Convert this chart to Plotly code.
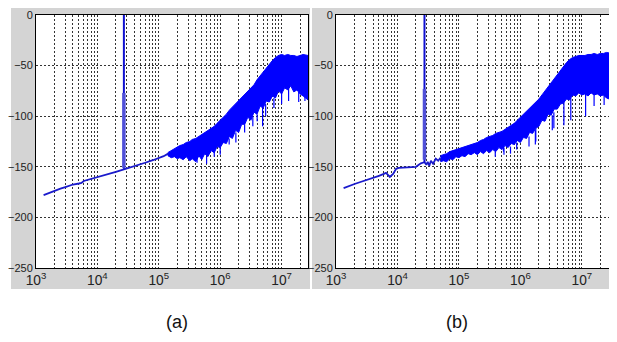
import plotly.graph_objects as go

# ---------------- Panel (a) data ----------------
a_base_f = [1.33e3, 1.6e3, 2e3, 2.5e3, 3e3, 4e3, 5e3, 5.5e3, 6e3, 8e3, 1e4, 1.3e4, 1.6e4, 2e4, 2.7e4,
            3.3e4, 4e4, 5e4, 6e4, 8e4, 1e5, 1.2e5, 1.42e5]
a_base_v = [-178, -176, -173.5, -171.5, -170, -167.5, -166.5, -166, -164, -162, -160, -158, -156.5, -155, -152.5,
            -151, -149.5, -148, -146, -143.5, -141.5, -139.5, -137]

a_band_f = [1.4e5, 1.6e5, 1.8e5, 2.0e5, 2.2e5, 2.5e5, 2.8e5, 3.2e5, 3.5e5, 4e5, 4.5e5, 5e5, 5.6e5, 6.3e5,
            7.1e5, 8e5, 8.9e5, 1e6, 1.12e6, 1.26e6, 1.41e6, 1.58e6, 1.78e6, 2e6, 2.24e6, 2.51e6, 2.82e6,
            3.16e6, 3.55e6, 3.98e6, 4.47e6, 5.01e6, 5.62e6, 6.31e6, 7.08e6, 7.94e6, 8.91e6, 1e7, 1.12e7,
            1.26e7, 1.41e7, 1.58e7, 1.78e7, 2e7, 2.24e7, 2.7e7]
a_band_hi = [-136, -134, -132, -131, -129, -128, -126, -125, -123, -122, -120, -118, -116, -114,
             -112, -110, -107, -104, -101, -98, -94, -91, -88, -85, -82, -79, -76,
             -72, -69, -64, -60, -56, -52, -48, -45, -42, -40, -39, -40,
             -39, -40, -40, -41, -40, -39, -40]
a_band_lo = [-139, -141, -140, -142, -141, -143, -140, -144, -142, -145, -139, -143, -137, -140,
             -134, -136, -130, -131, -126, -127, -120, -122, -114, -116, -108, -108, -101,
             -104, -96, -98, -90, -92, -85, -86, -80, -82, -75, -78, -72,
             -74, -70, -76, -74, -78, -80, -84]
a_spike_f = [4.2e5, 6.0e5, 8.0e5, 1.0e6, 1.4e6, 1.8e6, 2.5e6, 3.4e6, 4.0e6, 4.9e6, 5.5e6, 7.5e6, 1.0e7,
             1.3e7, 1.9e7, 2.4e7]
a_spike_top = [-138, -140, -134, -130, -122, -116, -108, -100, -98, -90, -88, -82, -76, -72, -76, -80]
a_spike_min = [-146, -147, -140, -138, -128, -126, -116, -110, -105, -110, -100, -92, -88, -85, -86, -85]
a_peak_f = 2.7e4
a_peak_v = [-152, 0]
a_peak_thick = [-151, -77]

# ---------------- Panel (b) data ----------------
b_base_f = [1.33e3, 1.6e3, 2e3, 2.5e3, 3e3, 4e3, 5e3, 6e3, 6.5e3, 7e3, 7.5e3, 8.5e3, 9.5e3, 1.05e4, 1.5e4,
            2e4, 2.4e4, 2.75e4, 2.95e4, 3.1e4, 3.3e4, 3.5e4, 3.8e4, 4.2e4, 4.6e4, 5e4]
b_base_v = [-171, -169, -167, -165, -163.5, -161, -159, -157, -156, -158, -160, -157, -152, -151, -150.5,
            -150, -146.5, -145.5, -148, -145, -149, -144, -147, -142, -144, -141]

b_band_f = [5e4, 5.6e4, 6.3e4, 7.1e4, 8e4, 8.9e4, 1e5, 1.12e5, 1.26e5, 1.41e5, 1.58e5, 1.78e5, 2e5,
            2.24e5, 2.51e5, 2.82e5, 3.16e5, 3.55e5, 3.98e5, 4.47e5, 5.01e5, 5.62e5, 6.31e5, 7.08e5,
            7.94e5, 8.91e5, 1e6, 1.12e6, 1.26e6, 1.41e6, 1.58e6, 1.78e6, 2e6, 2.24e6, 2.51e6, 2.82e6,
            3.16e6, 3.55e6, 3.98e6, 4.47e6, 5.01e6, 5.62e6, 6.31e6, 7.08e6, 7.94e6, 8.91e6, 1e7,
            1.12e7, 1.26e7, 1.41e7, 1.58e7, 1.78e7, 2e7, 2.24e7, 2.51e7, 3.1e7]
b_band_hi = [-139, -138, -137, -135, -134, -133, -132, -131, -130, -129, -128, -127, -126,
             -124, -123, -121, -120, -119, -117, -116, -115, -113, -111, -109,
             -107, -104, -101, -98, -95, -92, -89, -86, -83, -79, -75, -71,
             -67, -63, -59, -55, -51, -47, -44, -42, -41, -40, -40,
             -40, -39, -39, -38, -39, -38, -38, -37, -38]
b_band_lo = [-145, -144, -145, -142, -143, -140, -141, -139, -140, -137, -138, -136, -138,
             -135, -137, -134, -136, -133, -135, -131, -133, -129, -131, -127,
             -128, -124, -126, -121, -122, -116, -117, -112, -110, -104, -105, -98,
             -99, -93, -93, -88, -87, -83, -84, -79, -80, -77, -79,
             -78, -80, -77, -79, -78, -80, -79, -82, -84]
b_spike_f = [3.9e5, 5.3e5, 5.4e5, 6.9e5, 8.7e5, 1.38e6, 1.75e6, 1.78e6, 3.3e6, 3.5e6, 5.1e6, 6.6e6,
             1.15e7, 1.58e7, 2.3e7, 3.0e7]
b_spike_top = [-133, -130, -131, -130, -126, -120, -114, -112, -99, -96, -85, -82, -78, -77, -79, -80]
b_spike_min = [-140, -135, -138, -137, -133, -130, -128, -125, -114, -112, -109, -104, -100, -90, -89, -84]
b_peak_f = 2.75e4
b_peak_v = [-146, 0]
b_peak_thick = [-143, -73]

captions = ["(a)", "(b)"]

BLUE = "#0000ff"
OFF = 8                      # page body margin
W, H = 617 - OFF, 342 - OFF  # figure size so that it fills the window


def px(x):
    return (x - OFF) / W


def py(y):
    return 1 - (y - OFF) / H


fig = go.Figure()

panels = [
    dict(bf=a_base_f, bv=a_base_v, f=a_band_f, hi=a_band_hi, lo=a_band_lo, sf=a_spike_f,
         st=a_spike_top, sm=a_spike_min, pf=a_peak_f, pv=a_peak_v, pt=a_peak_thick, xa="x", ya="y"),
    dict(bf=b_base_f, bv=b_base_v, f=b_band_f, hi=b_band_hi, lo=b_band_lo, sf=b_spike_f,
         st=b_spike_top, sm=b_spike_min, pf=b_peak_f, pv=b_peak_v, pt=b_peak_thick, xa="x2", ya="y2"),
]

for p in panels:
    # noisy band as a polygon
    fig.add_trace(go.Scatter(x=p["f"] + p["f"][::-1], y=p["hi"] + p["lo"][::-1], mode="lines",
                             fill="toself", fillcolor=BLUE, line=dict(color=BLUE, width=1),
                             xaxis=p["xa"], yaxis=p["ya"], hoverinfo="skip"))
    # downward spikes
    sx, sy = [], []
    for f, t, m in zip(p["sf"], p["st"], p["sm"]):
        sx += [f, f, None]
        sy += [t, m, None]
    fig.add_trace(go.Scatter(x=sx, y=sy, mode="lines", line=dict(color=BLUE, width=1.2),
                             xaxis=p["xa"], yaxis=p["ya"], hoverinfo="skip"))
    # low-frequency line
    fig.add_trace(go.Scatter(x=p["bf"], y=p["bv"], mode="lines", line=dict(color="#1a1acc", width=1.8),
                             xaxis=p["xa"], yaxis=p["ya"]))
    # main peak
    fig.add_trace(go.Scatter(x=[p["pf"], p["pf"]], y=p["pv"], mode="lines",
                             line=dict(color="#1010d0", width=2), xaxis=p["xa"], yaxis=p["ya"]))
    fig.add_trace(go.Scatter(x=[p["pf"], p["pf"]], y=p["pt"], mode="lines",
                             line=dict(color="#5050d8", width=3.5), xaxis=p["xa"], yaxis=p["ya"]))

axis_common = dict(showline=True, mirror=True, linecolor="#000", linewidth=1, ticks="",
                   showgrid=True, gridcolor="#333", griddash="2px,2px", gridwidth=1, zeroline=False,
                   automargin=False,
                   tickfont=dict(family="Liberation Sans", size=11, color="#222"))
xcommon = dict(type="log", dtick=1, exponentformat="power", showexponent="all",
               minor=dict(dtick="D1", showgrid=True, gridcolor="#333", griddash="2px,2px", gridwidth=1, ticks=""),
               **axis_common)
ycommon = dict(range=[-250, 0], dtick=50, **axis_common)

plot_a = (36, 308)
plot_b = (336, 612)
plot_y = (15, 268)

fig.update_layout(
    width=W, height=H, margin=dict(l=0, r=0, t=0, b=0, autoexpand=False),
    paper_bgcolor="white", plot_bgcolor="white", showlegend=False,
    xaxis=dict(domain=[px(plot_a[0]), px(plot_a[1])], range=[3, 7.43], anchor="y", **xcommon),
    yaxis=dict(domain=[py(plot_y[1]), py(plot_y[0])], anchor="x", **ycommon),
    xaxis2=dict(domain=[px(plot_b[0]), px(plot_b[1])], range=[3, 7.49], anchor="y2", **xcommon),
    yaxis2=dict(domain=[py(plot_y[1]), py(plot_y[0])], anchor="x2", **ycommon),
    shapes=[
        dict(type="rect", xref="paper", yref="paper", x0=px(11), x1=px(310), y0=py(289), y1=py(5),
             fillcolor="#d4d4d4", line=dict(width=0), layer="below"),
        dict(type="rect", xref="paper", yref="paper", x0=px(312), x1=px(614), y0=py(289), y1=py(5),
             fillcolor="#d4d4d4", line=dict(width=0), layer="below"),
        dict(type="rect", xref="paper", yref="paper", x0=px(plot_a[0]), x1=px(plot_a[1]),
             y0=py(plot_y[1]), y1=py(plot_y[0]), fillcolor="white", line=dict(width=0), layer="below"),
        dict(type="rect", xref="paper", yref="paper", x0=px(plot_b[0]), x1=px(plot_b[1]),
             y0=py(plot_y[1]), y1=py(plot_y[0]), fillcolor="white", line=dict(width=0), layer="below"),
    ],
    annotations=[
        dict(text=captions[0], x=px(177), y=py(322), xref="paper", yref="paper", showarrow=False,
             xanchor="center", yanchor="middle",
             font=dict(family="Liberation Sans", size=18, color="#111")),
        dict(text=captions[1], x=px(457), y=py(322), xref="paper", yref="paper", showarrow=False,
             xanchor="center", yanchor="middle",
             font=dict(family="Liberation Sans", size=18, color="#111")),
    ],
)

fig.write_html("out.html")
